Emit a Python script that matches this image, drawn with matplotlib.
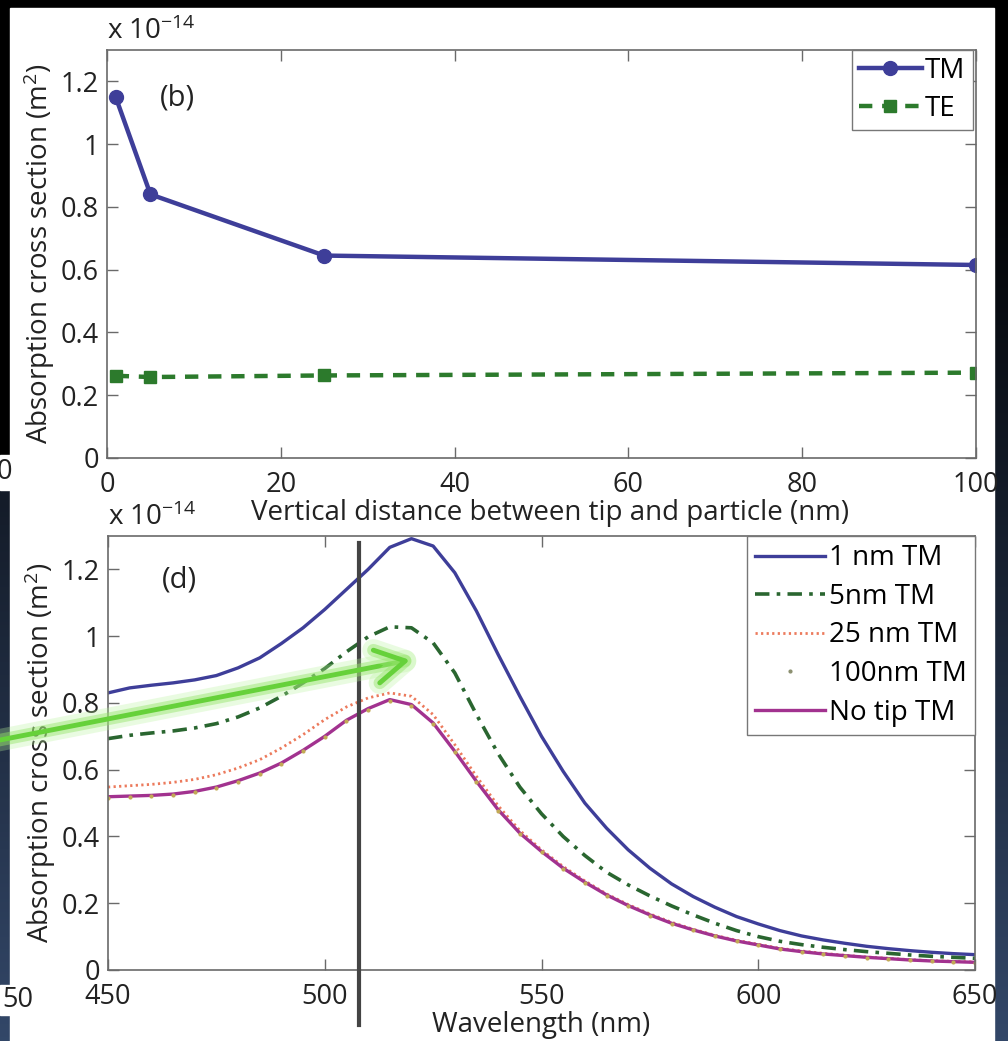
import numpy as np
import matplotlib.pyplot as plt
import matplotlib.patheffects as pe
from matplotlib.patches import Rectangle
from matplotlib.ticker import FuncFormatter

plt.rcParams['font.family'] = ['Open Sans', 'DejaVu Sans']
plt.rcParams['mathtext.fontset'] = 'custom'
plt.rcParams['mathtext.rm'] = 'Open Sans'
plt.rcParams['mathtext.it'] = 'Open Sans:italic'

# ---- panel (b): absorption vs tip-particle distance ----
distance_nm = [1, 5, 25, 100]
tm_abs = [1.15, 0.84, 0.645, 0.615]
te_abs = [0.262, 0.258, 0.263, 0.272]

# ---- panel (d): absorption spectra (x 1e-14 m^2) ----
wavelength_nm = np.arange(450, 651, 5)
abs_1nm = [0.830, 0.845, 0.853, 0.860, 0.869, 0.882, 0.905, 0.935, 0.978, 1.025,
           1.080, 1.140, 1.200, 1.266, 1.292, 1.270, 1.190, 1.075, 0.945, 0.820,
           0.700, 0.595, 0.500, 0.425, 0.360, 0.305, 0.258, 0.220, 0.188, 0.160,
           0.138, 0.118, 0.102, 0.090, 0.080, 0.071, 0.064, 0.058, 0.053, 0.049,
           0.046]
abs_5nm = [0.693, 0.703, 0.710, 0.716, 0.725, 0.738, 0.758, 0.785, 0.820, 0.860,
           0.903, 0.953, 0.998, 1.028, 1.025, 0.980, 0.890, 0.765, 0.648, 0.548,
           0.468, 0.400, 0.343, 0.293, 0.255, 0.222, 0.192, 0.165, 0.140, 0.118,
           0.100, 0.086, 0.076, 0.068, 0.061, 0.055, 0.050, 0.045, 0.041, 0.038,
           0.035]
abs_25nm = [0.548, 0.552, 0.556, 0.562, 0.571, 0.585, 0.605, 0.630, 0.665, 0.705,
            0.750, 0.788, 0.815, 0.830, 0.820, 0.765, 0.675, 0.580, 0.492, 0.418,
            0.360, 0.310, 0.267, 0.228, 0.196, 0.168, 0.143, 0.122, 0.104, 0.089,
            0.077, 0.065, 0.057, 0.050, 0.044, 0.039, 0.035, 0.031, 0.028, 0.026,
            0.024]
abs_100nm = [0.516, 0.518, 0.520, 0.524, 0.532, 0.545, 0.564, 0.587, 0.617, 0.655,
             0.697, 0.745, 0.780, 0.806, 0.792, 0.737, 0.652, 0.562, 0.477, 0.407,
             0.352, 0.302, 0.261, 0.223, 0.191, 0.163, 0.139, 0.119, 0.101, 0.086,
             0.074, 0.062, 0.054, 0.047, 0.042, 0.037, 0.033, 0.029, 0.026, 0.024,
             0.022]
abs_notip = [0.519, 0.521, 0.523, 0.527, 0.535, 0.548, 0.567, 0.590, 0.620, 0.658,
             0.700, 0.748, 0.783, 0.810, 0.795, 0.740, 0.655, 0.565, 0.480, 0.410,
             0.355, 0.305, 0.263, 0.225, 0.193, 0.165, 0.140, 0.120, 0.102, 0.087,
             0.075, 0.063, 0.055, 0.048, 0.043, 0.038, 0.034, 0.030, 0.027, 0.025,
             0.023]
marker_line_nm = 508

W, H = 1008, 1041
FS = 20
TFS = 19.5
BLUE = '#3e3e99'
GREEN = '#2c7a2c'
DKGREEN = '#2a6630'
RED = '#ec7a5c'
MAGENTA = '#a2328f'
DOTS = '#c2aa55'


def fig_rect(x0, y0, x1, y1):
    return [x0 / W, 1 - y1 / H, (x1 - x0) / W, (y1 - y0) / H]


fig = plt.figure(figsize=(W / 100, H / 100), dpi=100)
fig.patch.set_facecolor('black')

# slide background: black fading into dark navy, white figure panels
bg = fig.add_axes([0, 0, 1, 1], zorder=0)
bg.set_axis_off()
ramp = np.clip((np.arange(H) - 150) / (H - 150), 0, 1)[:, None, None]
navy = np.array([0.20, 0.28, 0.41])
grad = np.repeat(ramp * navy, 4, axis=1)
bg.imshow(grad, extent=(0, W, H, 0), aspect='auto', interpolation='bilinear')
bg.add_patch(Rectangle((0, 0), 10, 455, color='black'))
bg.add_patch(Rectangle((10, 8), 984, H, color='white'))
bg.add_patch(Rectangle((0, 455), 10, 35, color='white'))
bg.add_patch(Rectangle((0, 985), 10, 30, color='white'))
bg.text(4, 472, '0', fontsize=TFS, ha='center', va='center', color='#222')
bg.text(33, 1000, '50', fontsize=TFS, ha='right', va='center', color='#222')
bg.set_xlim(0, W)
bg.set_ylim(H, 0)

fmt = FuncFormatter(lambda v, p: f'{v:g}')


def style_axes(ax, xpad):
    ax.set_facecolor('white')
    for s in ax.spines.values():
        s.set_color('#6a6a6a')
        s.set_linewidth(1.2)
    ax.tick_params(direction='in', length=8, width=1, color='#6a6a6a',
                   top=True, right=True, labelsize=TFS, labelcolor='#222', pad=6)
    ax.tick_params(axis='x', pad=xpad)
    ax.set_ylim(0, 1.3)
    ax.set_yticks(np.arange(0, 1.21, 0.2))
    ax.yaxis.set_major_formatter(fmt)
    ax.set_ylabel('Absorption cross section (m$^2$)', fontsize=FS, color='#222')
    ax.text(0, 1.01, r'x 10$^{-14}$', transform=ax.transAxes, fontsize=FS,
            ha='left', va='bottom', color='#222')


# ---- top panel (b) ----
ax1 = fig.add_axes(fig_rect(107, 50, 976, 458), zorder=2)
style_axes(ax1, 9)
ax1.plot(distance_nm, tm_abs, '-o', color=BLUE, lw=3.2, ms=10, mfc=BLUE,
         mec=BLUE, label='TM')
ax1.plot(distance_nm, te_abs, '--s', color=GREEN, lw=3.2, ms=8, mfc=GREEN,
         mec=GREEN, dashes=(3, 2.2), label='TE')
ax1.set_xlim(0, 100)
ax1.set_xticks(np.arange(0, 101, 20))
ax1.set_xlabel('Vertical distance between tip and particle (nm)',
               fontsize=FS, color='#222')
ax1.xaxis.set_label_coords((550 - 107) / 869, -0.1)
ax1.yaxis.set_label_coords(-0.058, 0.5)
ax1.text((160 - 107) / 869, (458 - 98) / 408, '(b)', transform=ax1.transAxes,
         fontsize=FS + 1, ha='left', va='center', color='#222')
ax1.legend(loc='upper right', bbox_to_anchor=(0.996, 1.0), fontsize=FS,
           frameon=True, fancybox=False, edgecolor='#777', framealpha=1,
           handlelength=2.3, handletextpad=0.1, borderpad=0.25,
           labelspacing=0.35, borderaxespad=0, numpoints=1)

# ---- bottom panel (d) ----
ax2 = fig.add_axes(fig_rect(108, 536, 975, 970), zorder=2)
style_axes(ax2, 9.5)
ax2.plot(wavelength_nm, abs_1nm, '-', color=BLUE, lw=2.4, label='1 nm TM')
ax2.plot(wavelength_nm, abs_5nm, color=DKGREEN, lw=2.6,
         dashes=(4, 2, 1, 2), label='5nm TM')
ax2.plot(wavelength_nm, abs_25nm, color=RED, lw=2.0,
         linestyle=(0, (0.8, 1.2)), label='25 nm TM')
ax2.plot(wavelength_nm, abs_notip, '-', color=MAGENTA, lw=2.4, label='No tip TM')
ax2.plot(wavelength_nm, abs_100nm, '.', color=DOTS, ms=4, label='100nm TM')
ax2.set_xlim(450, 650)
ax2.set_xticks(np.arange(450, 651, 50))
ax2.set_xlabel('Wavelength (nm)', fontsize=FS, color='#222')
ax2.xaxis.set_label_coords(0.5, -0.095)
ax2.yaxis.set_label_coords(-0.058, 0.5)
ax2.text((162 - 108) / 867, (970 - 580) / 434, '(d)', transform=ax2.transAxes,
         fontsize=FS + 1, ha='left', va='center', color='#222')
ax2.plot([marker_line_nm, marker_line_nm], [-0.165, 1.28], color='#444',
         lw=3, clip_on=False, zorder=5)
h, l = ax2.get_legend_handles_labels()
order = [0, 1, 2, 4, 3]
leg2 = ax2.legend([h[i] for i in order], [l[i] for i in order],
                  loc='upper right', bbox_to_anchor=(1.0, 1.0), fontsize=FS,
                  frameon=True, fancybox=False, edgecolor='#777', framealpha=1,
                  handlelength=2.5, handletextpad=0.15, borderpad=0.3,
                  labelspacing=0.38, borderaxespad=0, numpoints=1)
leg2.legend_handles[3].set_color('#8c9070')

# ---- green annotation arrow drawn on the slide ----
ov = fig.add_axes([0, 0, 1, 1], zorder=5)
ov.set_axis_off()
ov.set_xlim(0, W)
ov.set_ylim(H, 0)
ov.patch.set_alpha(0)
ov.annotate('', xy=(410, 660), xytext=(-5, 741),
            arrowprops=dict(arrowstyle='->,head_length=0.7,head_width=0.4',
                            color='#66d13a', lw=3.5, mutation_scale=30,
                            shrinkA=0, shrinkB=0,
                            path_effects=[pe.Stroke(linewidth=16, foreground='#b9f29c', alpha=0.3),
                                          pe.Stroke(linewidth=9, foreground='#93e467', alpha=0.45),
                                          pe.Normal()]))

fig.savefig('out.png', dpi=100, facecolor=fig.get_facecolor())
